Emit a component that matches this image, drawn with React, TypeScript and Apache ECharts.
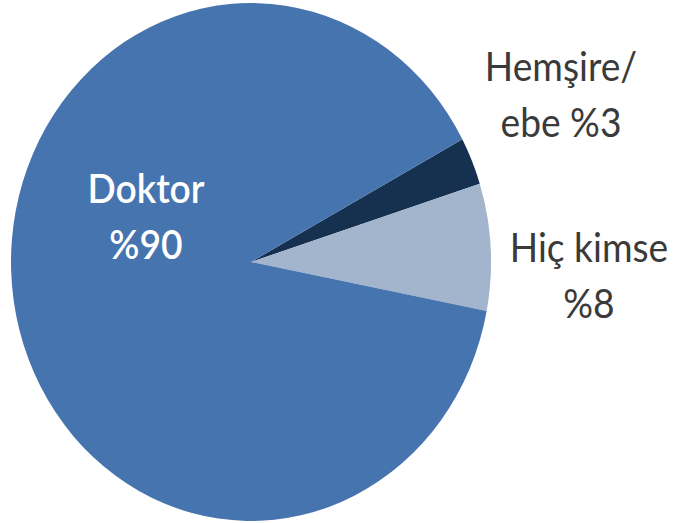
import React, { useEffect, useRef } from "react";
import * as echarts from "echarts";

const names = ["Hemşire/ebe", "Hiç kimse", "Doktor"];
const values = [3, 8, 90];
const colors = ["#16304f", "#a3b4cd", "#4674af"];
const labelTexts = ["Hemşire/\nebe %3", "Hiç kimse\n%8", "Doktor\n%90"];

export default function App() {
  const ref = useRef<HTMLDivElement>(null);
  useEffect(() => {
    document.body.style.margin = "0";
    const chart = echarts.init(ref.current!, null, { renderer: "svg" });
    const total = values.reduce((a, b) => a + b, 0);
    const startDeg = -28.3;
    const cx = 251, cy = 262, rx = 240, ry = 259;
    const font = "Lato, 'Open Sans', sans-serif";
    chart.setOption({
      animation: false,
      backgroundColor: "#ffffff",
      series: [
        {
          type: "custom",
          coordinateSystem: "none",
          z: 1,
          data: values.map((v, i) => ({ name: names[i], value: [v, i] })),
          renderItem: (params: any, api: any) => {
            const idx = params.dataIndex;
            let before = 0;
            for (let k = 0; k < idx; k++) before += values[k];
            const v = api.value(0);
            const s = (startDeg * Math.PI) / 180 + (before / total) * Math.PI * 2;
            const e = s + (v / total) * Math.PI * 2;
            return {
              type: "sector",
              x: cx,
              y: cy,
              scaleY: ry / rx,
              shape: { cx: 0, cy: 0, r: rx, r0: 0, startAngle: s, endAngle: e, clockwise: true },
              style: { fill: colors[idx] },
            };
          },
        },
      ],
      graphic: [
        {
          type: "text",
          x: 561,
          y: 37,
          z: 100,
          scaleX: 0.93,
          style: {
            text: labelTexts[0],
            fill: "#3a3a3a",
            font: `40px ${font}`,
            lineHeight: 56,
            align: "center",
            verticalAlign: "top",
          },
        },
        {
          type: "text",
          x: 589,
          y: 218,
          z: 100,
          scaleX: 0.93,
          style: {
            text: labelTexts[1],
            fill: "#3a3a3a",
            font: `40px ${font}`,
            lineHeight: 56,
            align: "center",
            verticalAlign: "top",
          },
        },
        {
          type: "text",
          x: 146,
          y: 159,
          z: 100,
          scaleX: 0.93,
          style: {
            text: labelTexts[2],
            fill: "#ffffff",
            font: `600 40px ${font}`,
            lineHeight: 56,
            align: "center",
            verticalAlign: "top",
          },
        },
      ],
    });
    return () => chart.dispose();
  }, []);
  return (
    <div
      ref={ref}
      style={{ position: "fixed", left: 0, top: 0, width: 677, height: 523 }}
    />
  );
}
